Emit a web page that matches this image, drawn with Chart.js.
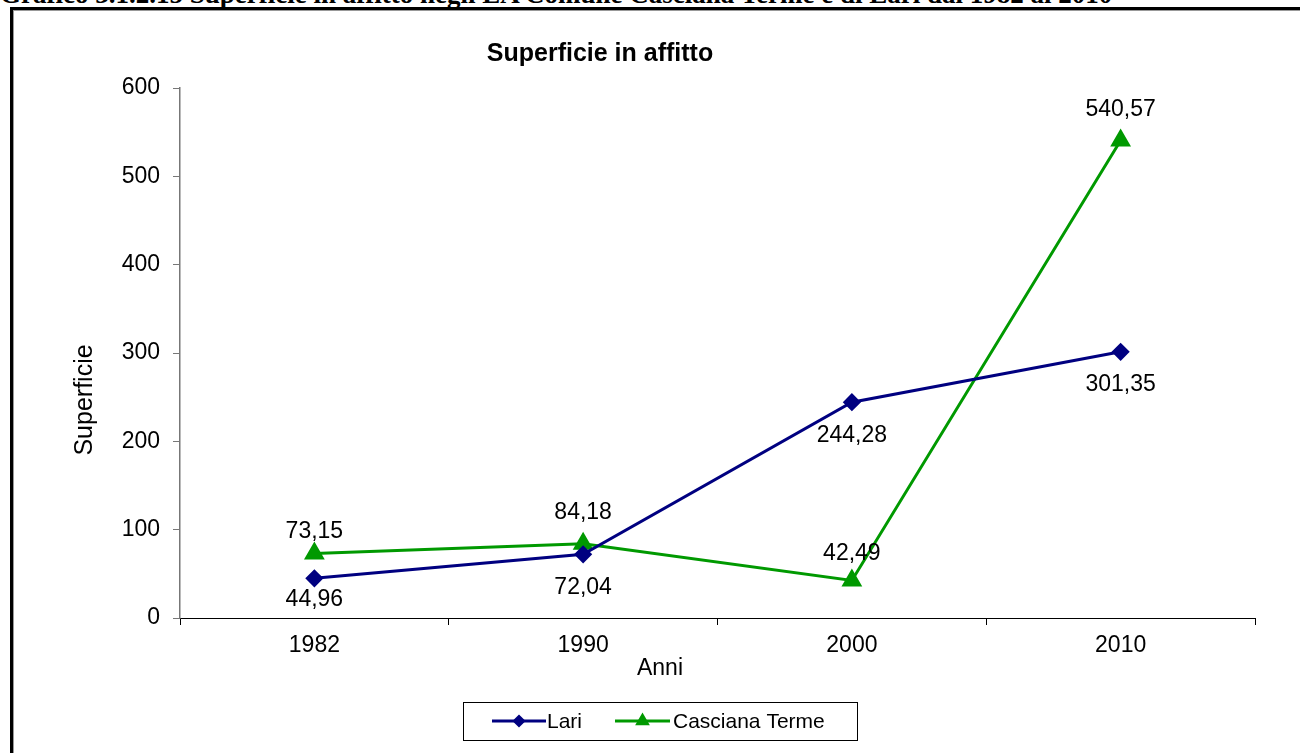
<!DOCTYPE html>
<html>
<head>
<meta charset="utf-8">
<script src="https://cdn.jsdelivr.net/npm/chart.js@4/dist/chart.umd.min.js"></script>
<style>
  html, body { margin: 0; padding: 0; background: #fff; overflow: hidden; }
  #wrap { position: relative; width: 1300px; height: 753px; }
  #heading {
    position: absolute; left: 0; top: -19px; white-space: nowrap;
    font: bold 27px/27px "Liberation Serif", "Times New Roman", serif; color: #000;
  }
  #frame {
    position: absolute; left: 10px; top: 7px; width: 1300px; height: 760px;
    border-left: 3px solid #000; border-top: 3px solid #000;
  }
  #frame-inner {
    position: absolute; left: 13px; top: 10px; width: 1300px; height: 760px;
    border-left: 1px solid #999; border-top: 1px solid #999;
  }
  canvas { position: absolute; left: 0; top: 0; }
</style>
</head>
<body>
<div id="wrap">
  <div id="heading">Grafico 3.1.2.15 Superficie in affitto negli EA Comune Casciana Terme e di Lari dal 1982 al 2010</div>
  <div id="frame"></div>
  <div id="frame-inner"></div>
  <canvas id="superficieChart" width="1300" height="753"></canvas>
</div>
<script>
// Data
const anni = ["1982", "1990", "2000", "2010"];
const lari = [44.96, 72.04, 244.28, 301.35];
const cascianaTerme = [73.15, 84.18, 42.49, 540.57];
const yTicks = [0, 100, 200, 300, 400, 500, 600];

const FONT = '"Liberation Sans", Arial, sans-serif';
const BLUE = '#000080';
const GREEN = '#009900';

// label placement: Lari below the point, Casciana Terme above
const labelPos = ['below', 'above'];
const labelGap = [33, 31];

function fmt(v) {
  return v.toFixed(2).replace('.', ',');
}

// titles, value labels and the boxed legend
const extrasPlugin = {
  id: 'extras',
  afterDatasetsDraw(chart) {
    const c = chart.ctx;
    const area = chart.chartArea;
    c.save();
    c.fillStyle = '#000';
    c.textAlign = 'center';
    c.textBaseline = 'middle';

    // value labels
    c.font = '23px ' + FONT;
    chart.data.datasets.forEach((ds, i) => {
      const meta = chart.getDatasetMeta(i);
      meta.data.forEach((pt, j) => {
        let y = labelPos[i] === 'below' ? pt.y + labelGap[i] : pt.y - labelGap[i];
        if (y + 9 > area.bottom - 10) y = area.bottom - 18;
        if (i === 1 && j === 0) y += 9;
        if (i === 1 && j === 2) y += 4;
        c.fillText(fmt(ds.data[j]), pt.x, y);
      });
    });

    // chart title
    c.font = 'bold 25px ' + FONT;
    c.fillText('Superficie in affitto', 600, 54);

    // axis titles
    c.font = '23px ' + FONT;
    c.fillText('Anni', 660, 669);
    c.save();
    c.translate(85, 400);
    c.rotate(-Math.PI / 2);
    c.font = '25px ' + FONT;
    c.fillText('Superficie', 0, 0);
    c.restore();

    // legend box
    c.strokeStyle = '#000';
    c.lineWidth = 1;
    c.strokeRect(463.5, 702.5, 394, 38);
    const items = [
      { x1: 492, x2: 546, tx: 547, color: BLUE, style: 'rectRot', r: 4.5 },
      { x1: 615, x2: 670, tx: 673, color: GREEN, style: 'triangle', r: 5.5 }
    ];
    const ly = 721;
    items.forEach((it, i) => {
      c.strokeStyle = it.color;
      c.lineWidth = 3;
      c.beginPath();
      c.moveTo(it.x1, ly);
      c.lineTo(it.x2, ly);
      c.stroke();
      c.fillStyle = it.color;
      Chart.helpers.drawPoint(c, { pointStyle: it.style, radius: it.r, borderWidth: 1 }, (it.x1 + it.x2) / 2, ly);
      c.fillStyle = '#000';
      c.textAlign = 'left';
      c.font = '21px ' + FONT;
      c.fillText(chart.data.datasets[i].label, it.tx, ly + 1);
    });
    c.restore();
  }
};

new Chart(document.getElementById('superficieChart').getContext('2d'), {
  type: 'line',
  data: {
    labels: anni,
    datasets: [
      {
        label: 'Lari',
        data: lari,
        borderColor: BLUE,
        backgroundColor: BLUE,
        borderWidth: 3,
        pointStyle: 'rectRot',
        pointRadius: 7,
        pointHoverRadius: 7,
        tension: 0,
        fill: false
      },
      {
        label: 'Casciana Terme',
        data: cascianaTerme,
        borderColor: GREEN,
        backgroundColor: GREEN,
        borderWidth: 3,
        pointStyle: 'triangle',
        pointRadius: 9,
        pointHoverRadius: 9,
        tension: 0,
        fill: false
      }
    ]
  },
  options: {
    responsive: false,
    animation: false,
    events: [],
    layout: { padding: { top: 88, right: 45, left: 0, bottom: 0 } },
    plugins: {
      legend: { display: false },
      title: { display: false },
      tooltip: { enabled: false }
    },
    scales: {
      x: {
        offset: true,
        grid: { offset: true, drawOnChartArea: false, tickLength: 7, color: '#000' },
        border: { color: '#000', width: 1 },
        ticks: { color: '#000', font: { family: FONT, size: 23 }, padding: 7, maxRotation: 0 },
        afterFit(scale) { scale.height = 135; }
      },
      y: {
        min: yTicks[0],
        max: yTicks[yTicks.length - 1],
        afterBuildTicks(scale) { scale.ticks = yTicks.map(v => ({ value: v })); },
        grid: { drawOnChartArea: false, tickLength: 7, color: '#777' },
        border: { color: '#777', width: 1.5 },
        ticks: { color: '#000', font: { family: FONT, size: 23 }, padding: 13 },
        afterFit(scale) { scale.width = 180; }
      }
    }
  },
  plugins: [extrasPlugin]
});
</script>
</body>
</html>
